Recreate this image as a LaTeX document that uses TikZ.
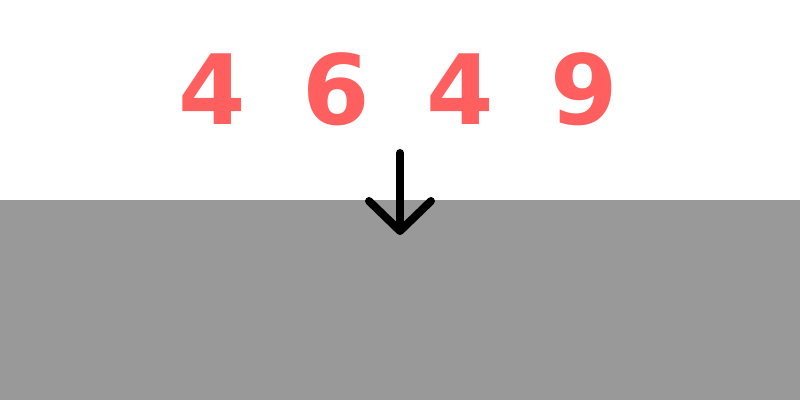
\documentclass[tikz,border=0pt]{standalone}
\usepackage{fontspec}
\setmainfont{DejaVu Sans}
\usetikzlibrary{positioning,calc,arrows.meta}

\definecolor{digitred}{RGB}{255,95,95}
\definecolor{floorgray}{RGB}{153,153,153}

\begin{document}
\begin{tikzpicture}[x=1pt, y=-1pt, every node/.style={},
    digit/.style={text=digitred, font=\fontsize{97}{97}\selectfont\bfseries, inner sep=0pt},
    downarrow/.style={line width=8pt, line cap=round,
        -{Straight Barb[length=30pt, width=62pt, round]}}
    ]
    \useasboundingbox (0,0) rectangle (800,400);
    \fill[floorgray] (0,200) rectangle (800,400);

    \foreach \d [count=\i from 0] in {4,6,4,9}
    {
        \node[digit] (dig_\i) at (212+124*\i, 89) {\d};
    }

    \coordinate (arr_top) at (400,153);
    \coordinate (arr_tip) at (400,235);
    \draw[downarrow] (arr_top) -- (arr_tip);

\end{tikzpicture}
\end{document}
